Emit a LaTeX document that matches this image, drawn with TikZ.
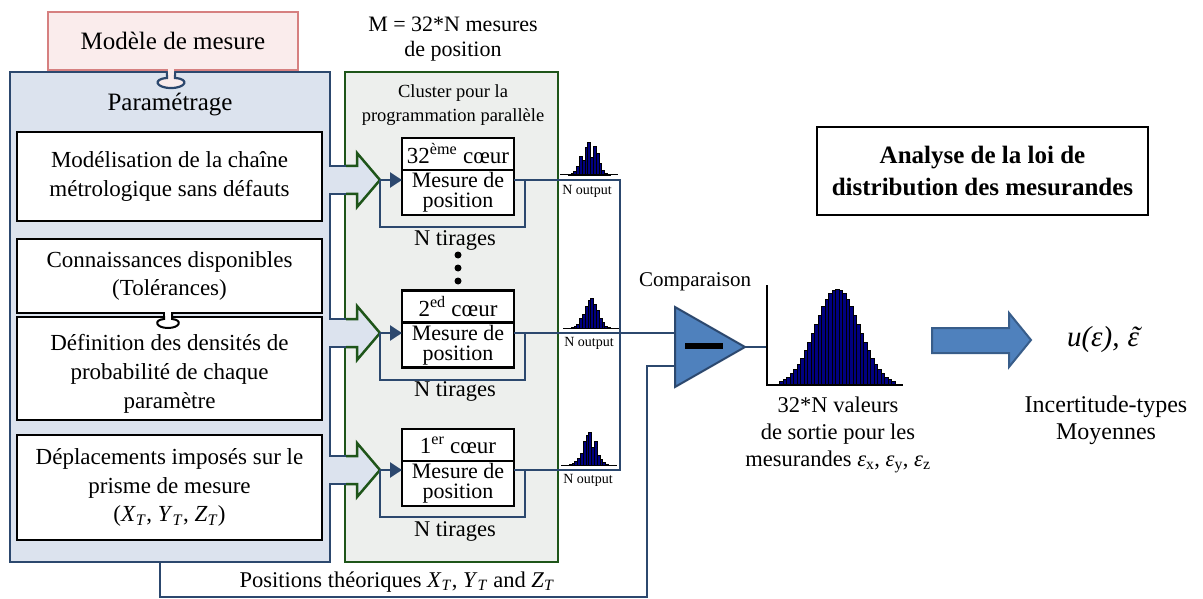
\documentclass[tikz,border=0pt]{standalone}
\usepackage{fontspec}
\setmainfont{Liberation Serif}
\usetikzlibrary{arrows.meta, positioning}

\definecolor{pinkfill}{RGB}{250,236,236}
\definecolor{pinkline}{RGB}{214,128,128}
\definecolor{paramfill}{RGB}{220,227,238}
\definecolor{linkblue}{RGB}{44,72,110}
\definecolor{clusterfill}{RGB}{237,239,237}
\definecolor{clustergreen}{RGB}{30,85,25}
\definecolor{compfill}{RGB}{79,129,189}
\definecolor{arrowline}{RGB}{56,93,138}
\definecolor{barnavy}{RGB}{0,0,128}

\begin{document}
\begin{tikzpicture}[
    x=1pt, y=-1pt,
    bigtxt/.style={font=\fontsize{25}{30}\selectfont, align=center, inner sep=0pt},
    txt/.style={font=\fontsize{22.5}{27}\selectfont, align=center, inner sep=0pt},
    smalltxt/.style={font=\fontsize{18.5}{24}\selectfont, align=center, inner sep=0pt},
    tinytxt/.style={font=\fontsize{14}{16}\selectfont, inner sep=0pt},
    leftbox/.style={rectangle, draw=black, line width=2.2pt, fill=white, minimum width=305, outer sep=0pt, align=center, font=\fontsize{23}{28.5}\selectfont},
    corehead/.style={rectangle, draw=black, line width=2.2pt, fill=white, minimum width=112, minimum height=32, outer sep=0pt, inner sep=0pt, font=\fontsize{23}{26}\selectfont},
    coremes/.style={corehead, minimum height=45, align=center, font=\fontsize{22}{20}\selectfont},
    conn/.style={draw=linkblue, line width=2.5pt},
    tiparrow/.style={conn, -{Triangle[length=12pt, width=15pt]}},
    bar/.style={fill=barnavy, draw=black, line width=0.5pt},
]
\useasboundingbox (0,0) rectangle (1203,599);

% Main containers
\node[rectangle, draw=linkblue, line width=2.5pt, fill=paramfill, minimum width=320, minimum height=490, outer sep=0pt] (param) at (170,317) {};
\node[rectangle, draw=clustergreen, line width=2.5pt, fill=clusterfill, minimum width=213, minimum height=490, outer sep=0pt] (cluster) at (451.5,317) {};
\node[rectangle, draw=pinkline, line width=2.5pt, fill=pinkfill, minimum width=250, minimum height=58, outer sep=0pt, bigtxt] (modele) at (173,41) {Modèle de mesure};

% Tab between model and parametrisation
\filldraw[fill=pinkfill, draw=linkblue, line width=2.2pt] (167,72) -- (167,78) .. controls (152,79) and (156,88) .. (171,88) .. controls (186,88) and (190,79) .. (175,78) -- (175,72);
\fill[pinkfill] (168.1,69) rectangle (173.9,75);

\node[bigtxt] (paramtitle) at (170,105) {Paramétrage};

% Parameter boxes
\node[leftbox, minimum height=89]  (modelis) at (169.5,176.5) {Modélisation de la chaîne\\métrologique sans défauts};
\node[leftbox, minimum height=74]  (connais) at (169.5,276)   {Connaissances disponibles\\(Tolérances)};
\node[leftbox, minimum height=103] (densite) at (169.5,368.5) {};
\node[txt, font=\fontsize{23}{29}\selectfont] (densitetxt) at (169.5,374) {Définition des densités de\\probabilité de chaque\\paramètre};
\node[leftbox, minimum height=105] (deplace) at (169.5,487.5) {Déplacements imposés sur le\\prisme de mesure\\(\textit{X}\textsubscript{\textit{T}}, \textit{Y}\textsubscript{\textit{T}}, \textit{Z}\textsubscript{\textit{T}})};

% Tab between knowledge and densities
\filldraw[fill=white, draw=black, line width=2pt] (164,313) -- (164,319) .. controls (153,320) and (156,328) .. (168,328) .. controls (180,328) and (183,320) .. (172,319) -- (172,313);
\fill[white] (165,311) rectangle (171,316);

% Cluster titles
\node[txt, font=\fontsize{22}{25}\selectfont] (mtitle) at (453,39) {M = 32*N mesures\\de position};
\node[smalltxt] (clustertitle) at (453,105) {Cluster pour la\\programmation parallèle};

% Inputs of each core
\coordinate (tip1) at (380,180);
\coordinate (tip2) at (380,333);
\coordinate (tip3) at (380,470);

\foreach \t in {tip1,tip2,tip3}{
  \begin{scope}[shift={(\t)}]
    \fill[paramfill] (-52,-14) -- (-23,-14) -- (-23,-27) -- (0,0) -- (-23,27) -- (-23,14) -- (-52,14) -- cycle;
    \draw[linkblue, line width=2.5pt] (-51,-14) -- (-34,-14) (-51,14) -- (-34,14);
    \draw[clustergreen, line width=2.5pt] (-34,-14) -- (-23,-14) -- (-23,-27) -- (0,0) -- (-23,27) -- (-23,14) -- (-34,14);
  \end{scope}
}

% Cores
\node[coremes] (mes1) at (458,192.5) {Mesure de\\position};
\node[corehead, above=0pt of mes1] (core1) {32\textsuperscript{ème} cœur};
\node[coremes] (mes2) at (458,345) {Mesure de\\position};
\node[corehead, above=0pt of mes2] (core2) {2\textsuperscript{ed} cœur};
\node[coremes] (mes3) at (458,483.5) {Mesure de\\position};
\node[corehead, above=0pt of mes3] (core3) {1\textsuperscript{er} cœur};

% Draw loops
\draw[conn] (tip1 -| mes1.east) -- ++(11,0) -- ++(0,47) -| (tip1);
\draw[conn] (tip2 -| mes2.east) -- ++(11,0) -- ++(0,47) -| (tip2);
\draw[conn] (tip3 -| mes3.east) -- ++(11,0) -- ++(0,47) -| (tip3);
\draw[tiparrow] (tip1) -- (tip1 -| mes1.west);
\draw[tiparrow] (tip2) -- (tip2 -| mes2.west);
\draw[tiparrow] (tip3) -- (tip3 -| mes3.west);

\node[txt] (tir1) at (455,240) {N tirages};
\node[txt] (tir2) at (455,391) {N tirages};
\node[txt] (tir3) at (455,531) {N tirages};
\fill (458,255) circle (3.5) (458,268) circle (3.5) (458,281) circle (3.5);

% Comparator
\coordinate (cin1) at (675,333);
\coordinate (cin2) at (675,366);
\coordinate (cout) at (745,347);
\coordinate (bus1) at (620,180);
\coordinate (bus3) at (620,470);

\draw[conn] (tip1 -| mes1.east) -- (bus1) -- (bus3) -- (tip3 -| mes3.east);
\draw[conn] (tip2 -| mes2.east) -- (cin1);
\draw[conn] ([xshift=-10]param.south) -- ++(0,35) -| ([xshift=-28]cin2) -- (cin2);
\draw[fill=compfill, draw=linkblue, line width=2pt] (675,307) -- (cout) -- (675,387) -- cycle;
\fill (685,343) rectangle (723,349);
\node[txt, font=\fontsize{21}{25}\selectfont] (comptitle) at (695,282) {Comparaison};
\node[txt] (theo) at (397,582) {Positions théoriques \textit{X}\textsubscript{\textit{T}}, \textit{Y}\textsubscript{\textit{T}} and \textit{Z}\textsubscript{\textit{T}}};

% Small histograms
\coordinate (hist1) at (568,175);
\coordinate (hist2) at (571,328);
\coordinate (hist3) at (569,465);
\begin{scope}[shift={(hist1)}]
  \foreach \h [count=\k] in {1,2,4,9,19,15,28,33,18,29,22,12,5,2,1}
    \filldraw[bar] (\k*2.8-2.8,0) rectangle ++(2.8,-\h);
  \draw[line width=1pt] (-8,0) -- (50,0);
\end{scope}
\begin{scope}[shift={(hist2)}]
  \foreach \h [count=\k] in {1,2,4,10,14,22,28,30,24,18,10,6,2,1}
    \filldraw[bar] (\k*2.8-2.8,0) rectangle ++(2.8,-\h);
  \draw[line width=1pt] (-8,0) -- (48,0);
\end{scope}
\begin{scope}[shift={(hist3)}]
  \foreach \h [count=\k] in {1,2,4,7,12,24,30,33,18,24,10,6,3,1}
    \filldraw[bar] (\k*2.8-2.8,0) rectangle ++(2.8,-\h);
  \draw[line width=1pt] (-8,0) -- (48,0);
\end{scope}
\node[tinytxt] (out1) at (587,191) {N output};
\node[tinytxt] (out2) at (589,343) {N output};
\node[tinytxt] (out3) at (588,480) {N output};

% Output distribution
\coordinate (hist) at (767,385);
\draw[conn] (cout) -- (cout -| hist);
\begin{scope}[shift={(hist)}]
  \foreach \k in {0,...,32}{
    \pgfmathsetmacro\h{96*exp(-((14+3.5*\k-70)^2)/968)}
    \filldraw[bar] (12.25+3.5*\k,0) rectangle ++(3.5,-\h);
  }
  \draw[line width=1.8pt] (0,-100) -- (0,0) -- (136,0);
\end{scope}
\node[txt] (valeurs) at (838,435) {32*N valeurs\\de sortie pour les\\mesurandes \textit{ε}\textsubscript{x}, \textit{ε}\textsubscript{y}, \textit{ε}\textsubscript{z}};

% Analysis
\node[rectangle, draw=black, line width=2.5pt, minimum width=331, minimum height=88, align=center, font=\fontsize{25}{32}\selectfont\bfseries] (analyse) at (982.5,171) {Analyse de la loi de\\distribution des mesurandes};
\draw[fill=compfill, draw=arrowline, line width=2pt] (932,328) -- (1009,328) -- (1009,313) -- (1031,340) -- (1009,367) -- (1009,353) -- (932,353) -- cycle;
\node[txt, font=\fontsize{29}{32}\selectfont\itshape] (resultat) at (1103,340) {u(ε),\hspace{8pt}\ooalign{ε\cr\hidewidth\kern0.15em\raisebox{0.02em}{\char"02DC}\hidewidth\cr}};
\node[txt, font=\fontsize{24}{27}\selectfont] (incert) at (1106,420) {Incertitude-types\\Moyennes};

\end{tikzpicture}
\end{document}
